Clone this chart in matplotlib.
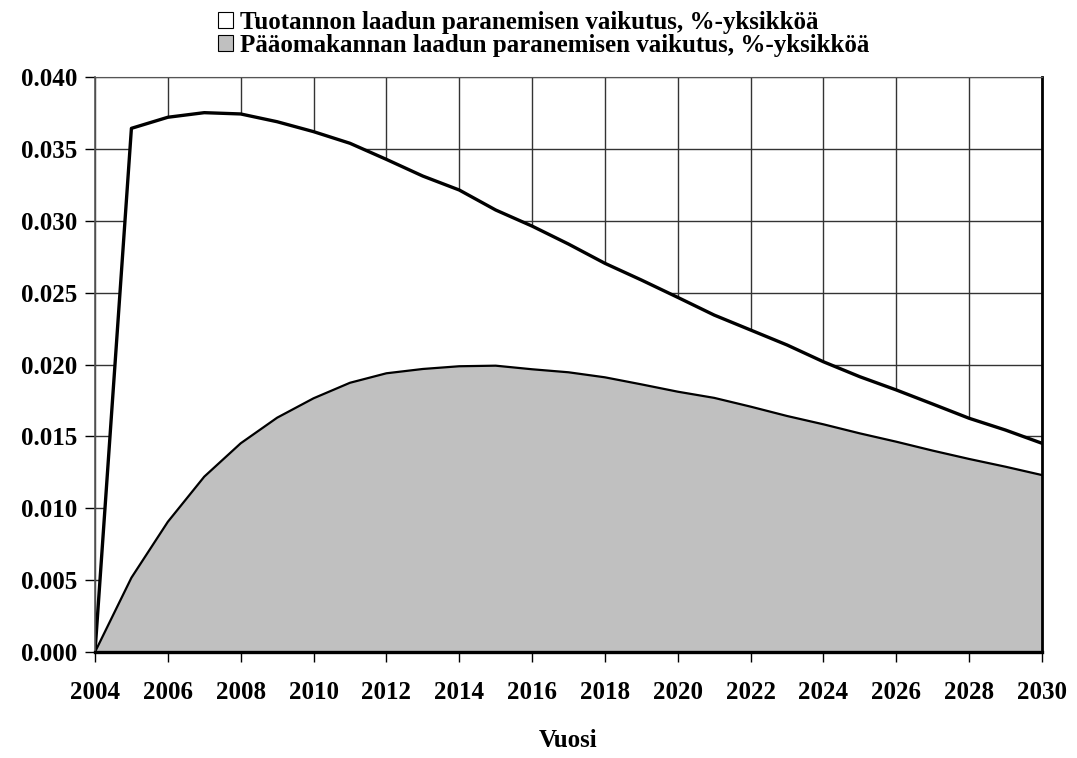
import numpy as np
import matplotlib
matplotlib.use('Agg')
import matplotlib.pyplot as plt
import matplotlib.ticker as ticker
from matplotlib.patches import Patch

plt.rcParams['font.family'] = ['Liberation Serif', 'DejaVu Serif']
plt.rcParams['font.weight'] = 'bold'

# DATA
years = np.arange(2004, 2031)
tuotanto = [0.0, 0.03643, 0.03720, 0.03752, 0.03743, 0.03689, 0.03620, 0.03539,
            0.03427, 0.03311, 0.03214, 0.03075, 0.02963, 0.02838, 0.02704, 0.02588,
            0.02467, 0.02344, 0.02240, 0.02136, 0.02019, 0.01915, 0.01823, 0.01725,
            0.01626, 0.01544, 0.01452]
paaoma = [0.0, 0.00517, 0.00906, 0.01220, 0.01452, 0.01630, 0.01765, 0.01873,
          0.01939, 0.01969, 0.01988, 0.01992, 0.01967, 0.01946, 0.01911, 0.01862,
          0.01811, 0.01768, 0.01707, 0.01642, 0.01584, 0.01521, 0.01463, 0.01401,
          0.01343, 0.01289, 0.01231]
labels = ['Tuotannon laadun paranemisen vaikutus, %-yksikköä',
          'Pääomakannan laadun paranemisen vaikutus, %-yksikköä']

fig = plt.figure(figsize=(10.77, 7.58), dpi=100)
ax = fig.add_axes([0.0882, 0.1398, 0.9675 - 0.0882, 0.8984 - 0.1398])

ax.set_axisbelow(True)
ax.grid(True, color='#333333', linewidth=1.0)

ax.fill_between(years, tuotanto, color='white', zorder=2)
ax.plot(years, tuotanto, color='black', linewidth=2.4, zorder=4)
ax.fill_between(years, paaoma, color='#c0c0c0', zorder=3)
ax.plot(years, paaoma, color='black', linewidth=1.6, zorder=4)

ax.set_xlim(2004, 2030)
ax.set_ylim(0, 0.040)
ax.xaxis.set_major_locator(ticker.MultipleLocator(2))
ax.yaxis.set_major_locator(ticker.MultipleLocator(0.005))
ax.yaxis.set_major_formatter(ticker.FormatStrFormatter('%.3f'))
ax.tick_params(axis='x', direction='out', length=7, width=1,
               pad=14, labelsize=18)
ax.tick_params(axis='y', direction='out', length=7, width=1, pad=6, labelsize=18)
for lab in ax.get_xticklabels() + ax.get_yticklabels():
    lab.set_fontweight('bold')

ax.spines['top'].set_color('#555555')
ax.spines['left'].set_color('#555555')
ax.spines['left'].set_linewidth(1.2)
ax.spines['right'].set_linewidth(2.0)
ax.spines['bottom'].set_linewidth(2.4)
for s in ax.spines.values():
    s.set_zorder(5)

ax.set_xlabel('Vuosi', fontsize=18, fontweight='bold', labelpad=18)

handles = [Patch(facecolor='white', edgecolor='black', linewidth=0.8),
           Patch(facecolor='#c0c0c0', edgecolor='black', linewidth=0.8)]
fig.legend(handles, labels, loc='upper center', bbox_to_anchor=(0.505, 1.012),
           frameon=False, ncol=1, handlelength=0.6, handleheight=0.6,
           handletextpad=0.3, labelspacing=0.0, borderpad=0.3,
           prop={'size': 18, 'weight': 'bold'})

fig.savefig('out.png', dpi=100)
